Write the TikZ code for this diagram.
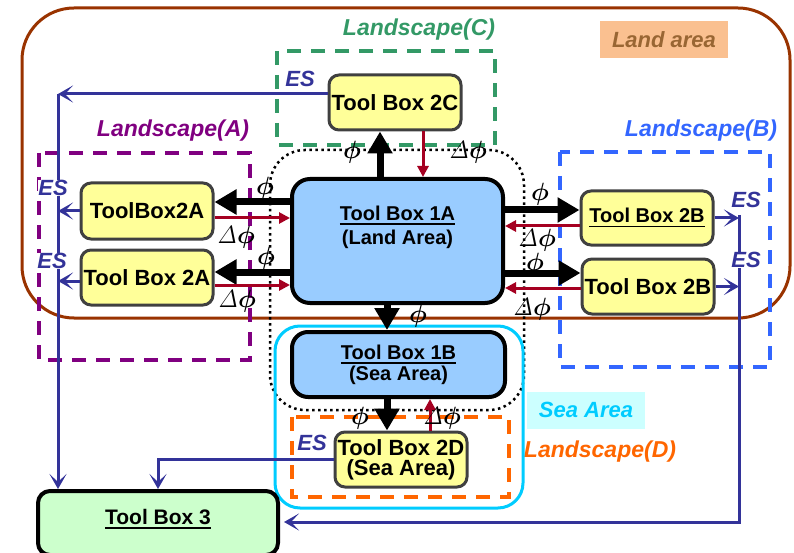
\RequirePackage{fix-cm}
\documentclass[tikz,border=0pt]{standalone}
\usepackage[no-math]{fontspec}
\setmainfont{Liberation Sans}
\usetikzlibrary{arrows.meta,calc}

\definecolor{esblue}{HTML}{333399}
\definecolor{dred}{HTML}{A50021}
\definecolor{landbrown}{HTML}{993300}
\definecolor{landtext}{HTML}{996633}
\definecolor{landfill}{HTML}{FAC090}
\definecolor{lsgreen}{HTML}{339966}
\definecolor{lspurple}{HTML}{800080}
\definecolor{lsblue}{HTML}{3366FF}
\definecolor{lsorange}{HTML}{FF6600}
\definecolor{seacyan}{HTML}{00CCFF}
\definecolor{seafill}{HTML}{CCFFFF}
\definecolor{tbyellow}{HTML}{FFFF99}
\definecolor{tbblue}{HTML}{99CCFF}
\definecolor{tbgreen}{HTML}{CCFFCC}
\definecolor{boxgray}{HTML}{404040}

% thick underline for box titles
\newcommand{\tbul}[1]{\leavevmode\setbox0=\hbox{#1}\rlap{\rule[-4.5pt]{\wd0}{1.8pt}}\box0}
% flux symbols
\newcommand{\fphi}{$\phi$}
\newcommand{\dphi}{{\unboldmath$\mathit{\Delta}$}$\phi$}

\begin{document}
\begin{tikzpicture}[x=1pt,y=-1pt,
  ybox/.style={draw=boxgray, line width=3pt, fill=tbyellow, rounded corners=10pt,
    minimum width=132pt, minimum height=55pt, inner sep=0pt, align=center,
    font=\fontsize{22}{21}\selectfont\bfseries},
  bbox/.style={draw=black, line width=4pt, fill=tbblue, rounded corners=16pt,
    inner sep=0pt, align=center, font=\fontsize{20}{24}\selectfont\bfseries},
  phiarrow/.style={line width=7pt, -{Triangle[length=22pt,width=24pt]}},
  dphiarrow/.style={draw=dred, line width=3pt, -{Triangle[length=11pt,width=11pt]}},
  esarrow/.style={draw=esblue, line width=3pt, -{Stealth[length=15pt,width=17pt,inset=8pt]}},
  lscape/.style={line width=3.5pt, dash pattern=on 14pt off 10pt},
  lslabel/.style={inner sep=0pt, font=\fontsize{23}{26}\selectfont\bfseries\itshape},
  philabel/.style={inner sep=0pt, font=\fontsize{25}{28}\selectfont\boldmath},
  eslabel/.style={text=esblue, fill=white, inner sep=0.5pt,
    font=\fontsize{22}{24}\selectfont\bfseries\itshape},
]
\useasboundingbox (0,0) rectangle (794,553);
\clip (0,0) rectangle (794,553);

% land area outline
\draw[landbrown, line width=3pt, rounded corners=52pt] (22,8) rectangle (790,318);
\node[fill=landfill, text=landtext, minimum width=128pt, minimum height=37pt, inner sep=0pt,
  font=\fontsize{22}{24}\selectfont\bfseries\itshape] (landlbl) at (664,39.5) {Land area};

% landscapes
\draw[lscape, lsgreen]  (277,51) rectangle (495,145);
\draw[lscape, lspurple] (39,153) rectangle (250,360);
\draw[lscape, lsblue]   (560,152) rectangle (770,367);
\draw[lscape, lsorange] (292,417) rectangle (509,497);
\node[lslabel, text=lsgreen]  (lsC) at (419,30)  {Landscape(C)};
\node[lslabel, text=lspurple] (lsA) at (173,131) {Landscape(A)};
\node[lslabel, text=lsblue]   (lsB) at (701,131) {Landscape(B)};
\node[lslabel, text=lsorange] (lsD) at (600,452) {Landscape(D)};

% dotted group around the tool boxes 1A and 1B
\draw[line width=2.5pt, dash pattern=on 2.5pt off 3.5pt, rounded corners=35pt] (270,150) rectangle (524,410);

% sea area
\draw[seacyan, line width=3pt, rounded corners=25pt] (275,326) rectangle (523,508);
\node[fill=seafill, text=seacyan, minimum width=118pt, minimum height=37pt, inner sep=0pt,
  font=\fontsize{22}{24}\selectfont\bfseries\itshape] (sealbl) at (586,410) {Sea Area};

% tool boxes
\node[bbox, minimum width=211pt, minimum height=124pt, text height=65pt, text depth=59pt, rounded corners=18pt]
  (tb1a) at (397.5,241) {\tbul{Tool Box 1A}\\(Land Area)};
\node[bbox, minimum width=213pt, minimum height=65pt, font=\fontsize{20}{21}\selectfont\bfseries]
  (tb1b) at (398.5,364.5) {\tbul{Tool Box 1B}\\(Sea Area)};
\node[ybox] (tb2c) at (395,102.5) {Tool Box 2C};
\node[ybox, minimum height=56pt] (tb2a1) at (147,211) {ToolBox2A};
\node[ybox] (tb2a2) at (147,277.5) {Tool Box 2A};
\node[ybox, minimum height=54pt, font=\fontsize{20}{22}\selectfont\bfseries] (tb2b1) at (647,218) {\tbul{Tool Box 2B}};
\node[ybox] (tb2b2) at (648,286.5) {Tool Box 2B};
\node[ybox, font=\fontsize{22}{20}\selectfont\bfseries] (tb2d) at (401,459.5) {Tool Box 2D\\(Sea Area)};
\node[draw=black, line width=4pt, fill=tbgreen, rounded corners=12pt, inner sep=0pt,
  minimum width=240pt, text height=33pt, text depth=31pt,
  font=\fontsize{21}{24}\selectfont\bfseries, anchor=north] (tb3) at (158,489) {\tbul{Tool Box 3}};

% phi flows (black) and delta-phi feedback (red)
\draw[phiarrow] ($(tb1a.west|-tb2a1.east)+(0,-9)$) -- ($(tb2a1.east)+(0,-9)$);
\draw[dphiarrow] ($(tb2a1.east)+(0,7)$) -- ($(tb1a.west|-tb2a1.east)+(0,7)$);
\draw[phiarrow] ($(tb1a.west|-tb2a2.east)+(0,-5.5)$) -- ($(tb2a2.east)+(0,-5.5)$);
\draw[dphiarrow] ($(tb2a2.east)+(0,7.5)$) -- ($(tb1a.west|-tb2a2.east)+(0,7.5)$);
\draw[phiarrow] ($(tb1a.east|-tb2b1.west)+(0,-8)$) -- ($(tb2b1.west)+(0,-8)$);
\draw[dphiarrow] ($(tb2b1.west)+(0,8)$) -- ($(tb1a.east|-tb2b1.west)+(0,8)$);
\draw[phiarrow] ($(tb1a.east|-tb2b2.west)+(0,-13.5)$) -- ($(tb2b2.west)+(0,-13.5)$);
\draw[dphiarrow] ($(tb2b2.west)+(0,1.5)$) -- ($(tb1a.east|-tb2b2.west)+(0,1.5)$);

\coordinate (up) at ($(tb2c.south)+(-15,0)$);
\coordinate (dn) at ($(tb2c.south)+(28,0)$);
\draw[phiarrow] (up |- tb1a.north) -- (up);
\draw[dphiarrow] (dn) -- (dn |- tb1a.north);

\coordinate (sb) at ($(tb1b.north)+(-11.5,0)$);
\draw[phiarrow] (sb |- tb1a.south) -- (sb);
\coordinate (sd) at ($(tb2d.north)+(-14,0)$);
\coordinate (su) at ($(tb2d.north)+(29,0)$);
\draw[phiarrow] (sd |- tb1b.south) -- (sd);
\draw[dphiarrow] (su) -- (su |- tb1b.south);

% ES outputs to tool box 3
\coordinate (busL) at (58,94);
\coordinate (busR) at (739,215);
\coordinate (busRb) at (739,522);
\coordinate (a2) at ($(tb2a2.west)+(0,3.5)$);
\draw[esarrow] (tb2c.west |- busL) -- (busL);
\draw[esarrow] (busL) -- (busL |- tb3.north);
\draw[esarrow] (tb2a1.west) -- (tb2a1.west -| busL);
\draw[esarrow] (a2) -- (a2 -| busL);
\draw[esarrow] (tb2b1.east) -- (tb2b1.east -| busR);
\draw[esarrow] (tb2b2.east) -- (tb2b2.east -| busR);
\draw[esarrow, shorten >=4pt] (busR) -- (busRb) -- (busRb -| tb3.east);
\draw[esarrow] (tb2d.west) -| (tb3.north);

% phi labels
\node[philabel] (p1) at (352,152) {\fphi};
\node[philabel] (p2) at (468,152) {\dphi};
\node[philabel] (p3) at (265,188) {\fphi};
\node[philabel] (p4) at (236,237) {\dphi};
\node[philabel] (p5) at (266,258) {\fphi};
\node[philabel] (p6) at (237,301) {\dphi};
\node[philabel] (p7) at (540,194) {\fphi};
\node[philabel] (p8) at (537,240) {\dphi};
\node[philabel] (p9) at (535,264) {\fphi};
\node[philabel] (p10) at (532,309) {\dphi};
\node[philabel] (p11) at (418,316) {\fphi};
\node[philabel] (p12) at (360,418) {\fphi};
\node[philabel] (p13) at (442,418) {\dphi};

% ES labels
\node[eslabel] (es1) at (300,79) {ES};
\node[eslabel] (es2) at (53,188) {ES};
\node[eslabel] (es3) at (52,261) {ES};
\node[eslabel] (es4) at (746,200) {ES};
\node[eslabel] (es5) at (746,260) {ES};
\node[eslabel] (es6) at (312,443) {ES};
\end{tikzpicture}
\end{document}
